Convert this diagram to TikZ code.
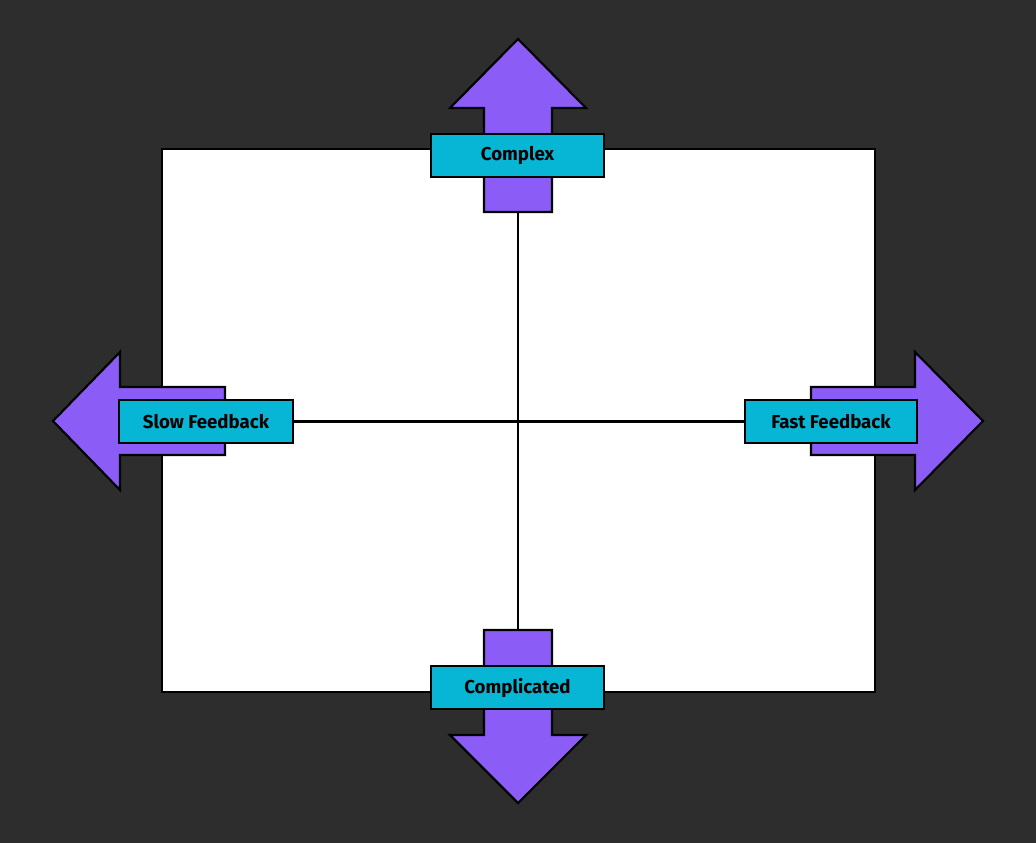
\documentclass[tikz,border=0pt]{standalone}
\usepackage{fontspec}
\setmainfont{Fira Sans}
\definecolor{bg}{HTML}{2D2D2D}
\definecolor{arrowviolet}{HTML}{8B5CF6}
\definecolor{labelcyan}{HTML}{06B6D4}
\tikzset{
  bigarrow/.style={fill=arrowviolet, draw=black, line width=1.6pt, line join=miter},
  axis/.style={draw=black, line width=2pt},
  quadlabel/.style={rectangle, draw=black, fill=labelcyan, line width=1.6pt,
    minimum height=32pt, inner sep=0pt, font=\bfseries\fontsize{14}{16}\selectfont}
}
\begin{document}
\begin{tikzpicture}[x=0.75pt, y=-0.75pt]
  \fill[bg] (0,0) rectangle (1036,843);
  \useasboundingbox (0,0) rectangle (1036,843);

  % Plane
  \draw[fill=white, line width=1.6pt] (162,149) rectangle (875,692);

  % Arrows
  \draw[bigarrow] (484,212) -- (484,108) -- (450,108) -- (518,39) -- (586,108) -- (552,108) -- (552,212) -- cycle;
  \draw[bigarrow] (484,630) -- (484,735) -- (450,735) -- (518,803) -- (586,735) -- (552,735) -- (552,630) -- cycle;
  \draw[bigarrow] (225,387) -- (120,387) -- (120,352) -- (53,421) -- (120,490) -- (120,455) -- (225,455) -- cycle;
  \draw[bigarrow] (811,387) -- (915,387) -- (915,352) -- (983,421) -- (915,490) -- (915,455) -- (811,455) -- cycle;

  % Axes
  \coordinate (top) at (518,212);
  \coordinate (bottom) at (518,630);
  \node[quadlabel, minimum width=130pt] (slow) at (206,421.5) {Slow Feedback};
  \node[quadlabel, minimum width=129pt] (fast) at (831,421.5) {Fast Feedback};
  \draw[axis] (top) -- (bottom);
  \draw[axis] (slow.east) -- (fast.west);

  % Labels
  \node[quadlabel, minimum width=130pt] (complex) at (517.5,155.5) {Complex};
  \node[quadlabel, minimum width=130pt] (complicated) at (517.5,687.5) {Complicated};
\end{tikzpicture}
\end{document}
